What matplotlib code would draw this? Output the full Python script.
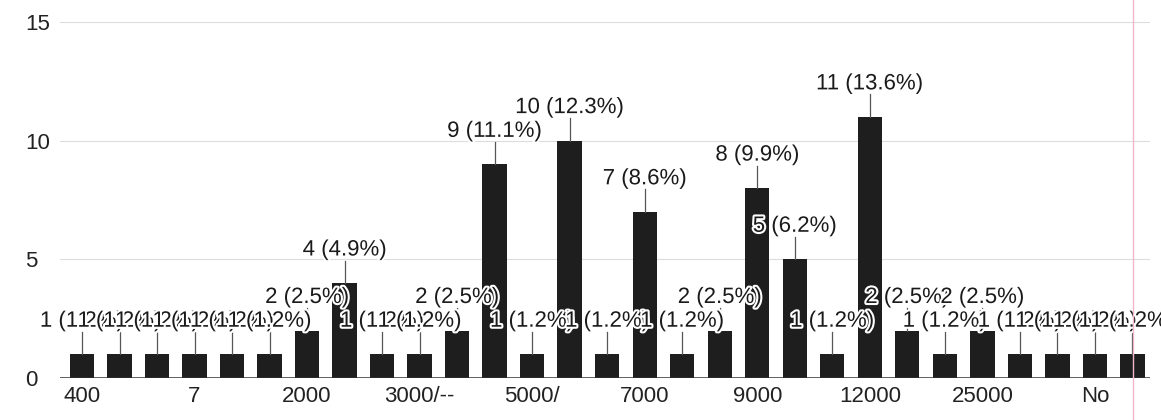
import matplotlib
matplotlib.use('Agg')
import matplotlib.pyplot as plt
import matplotlib.patheffects as pe
import numpy as np

plt.rcParams['font.family'] = ['Liberation Sans', 'DejaVu Sans']

# counts per answer (29 answers, 81 responses)
counts = [1, 1, 1, 1, 1, 1, 2, 4, 1, 1, 2, 9, 1, 10, 1, 7, 1, 2, 8, 5,
          1, 11, 2, 1, 2, 1, 1, 1, 1]
total = 81
# only every third category name is printed on the axis
shown_labels = ['400', '7', '2000', '3000/--', '5000/', '7000', '9000',
                '12000', '25000', 'No']
yticks = [0, 5, 10, 15]

x = np.arange(len(counts))

fig = plt.figure(figsize=(11.61, 4.2), dpi=100)
ax = fig.add_axes([60/1161, 42/420, 1090/1161, 356/420])

# faint grid like the scanned page
for t in yticks[1:]:
    ax.axhline(t, color='#dcdcdc', lw=0.8, zorder=0)

ax.bar(x, counts, width=0.65, color='#1e1e1e', zorder=2)
ax.axhline(0, color='#303030', lw=1.8, zorder=3)

off = 0.95
for i, c in enumerate(counts):
    pct = 100.0 * c / total
    ax.plot([i, i], [c, c + off], color='#555555', lw=0.9, zorder=3)
    ax.text(i, c + off, '%d (%.1f%%)' % (c, pct), ha='center', va='bottom',
            fontsize=16, color='#1a1a1a', zorder=4 + i,
            path_effects=[pe.withStroke(linewidth=3, foreground='white')])

ax.set_xlim(-0.587, 28.47)
ax.set_ylim(0, 15)
ax.set_xticks(x[::3])
ax.set_xticklabels(shown_labels, fontsize=16, color='#222222')
ax.set_yticks(yticks)
ax.set_yticklabels([str(t) for t in yticks], fontsize=16, color='#222222')
for lab in ax.get_yticklabels():
    lab.set_horizontalalignment('left')
ax.tick_params(axis='y', length=0, pad=25)
ax.tick_params(axis='x', length=0, pad=6)
for s in ax.spines.values():
    s.set_visible(False)

# pink margin line of the scanned sheet
fig.add_artist(plt.Line2D([1133/1161, 1133/1161], [0, 1], color='#f0b8c8',
                          lw=1.0, transform=fig.transFigure))

fig.savefig('out.png', dpi=100)
